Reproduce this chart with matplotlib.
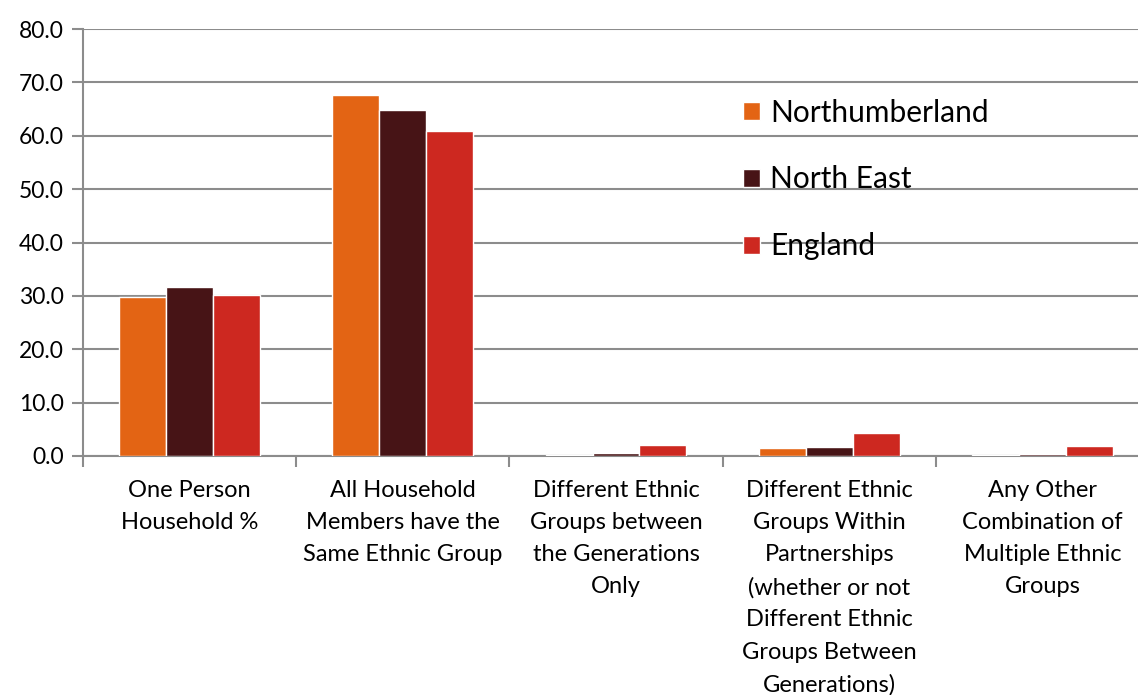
import numpy as np
import matplotlib.pyplot as plt
from matplotlib.patches import Patch

categories = [
    "One Person\nHousehold %",
    "All Household\nMembers have the\nSame Ethnic Group",
    "Different Ethnic\nGroups between\nthe Generations\nOnly",
    "Different Ethnic\nGroups Within\nPartnerships\n(whether or not\nDifferent Ethnic\nGroups Between\nGenerations)",
    "Any Other\nCombination of\nMultiple Ethnic\nGroups",
]
northumberland = [29.8, 67.7, 0.1, 1.5, 0.1]
north_east = [31.7, 64.8, 0.5, 1.6, 0.45]
england = [30.1, 60.8, 2.1, 4.4, 1.8]

series = [("Northumberland", northumberland, "#e36414"),
          ("North East", north_east, "#471416"),
          ("England", england, "#cd2820")]

plt.rcParams['font.family'] = ['Lato', 'DejaVu Sans']

fig = plt.figure(figsize=(11.38, 6.95), dpi=100)
ax = fig.add_axes([83 / 1138, 1 - 456 / 695, 1066 / 1138, 427 / 695])

x = np.arange(len(categories))
width = 0.22
for i, (name, vals, col) in enumerate(series):
    ax.bar(x + (i - 1) * width, vals, width, color=col,
           edgecolor="white", linewidth=1.0, label=name, zorder=3)

ax.set_xlim(-0.5, len(categories) - 0.5)
ax.set_ylim(0, 80)
ax.set_yticks(np.arange(0, 81, 10))
ax.set_yticklabels([f"{v:.1f}" for v in np.arange(0, 81, 10)], fontsize=16.5)
ax.yaxis.grid(True, color="#8c8c8c", linewidth=1.5, zorder=0)
ax.set_axisbelow(True)

ax.set_xticks(x)
ax.set_xticklabels(categories, fontsize=17, linespacing=1.66)
ax.set_xticks(np.arange(-0.5, len(categories)), minor=True)
ax.tick_params(axis="x", which="major", length=0, pad=17)
ax.tick_params(axis="x", which="minor", length=8, width=1.5, color="#8c8c8c")
ax.tick_params(axis="y", length=8, width=1.5, color="#8c8c8c", pad=6)

for s in ("top", "right"):
    ax.spines[s].set_visible(False)
for s in ("left", "bottom"):
    ax.spines[s].set_color("#8c8c8c")
    ax.spines[s].set_linewidth(1.5)

handles = [Patch(facecolor=c, edgecolor="white") for _, _, c in series]
ax.legend(handles, [n for n, _, _ in series], loc="upper left",
          bbox_to_anchor=(0.594, 0.9), frameon=False, fontsize=21.5,
          handlelength=0.55, handleheight=0.55, handletextpad=0.35,
          labelspacing=1.3)

fig.savefig("out.png", dpi=100, facecolor="white")
